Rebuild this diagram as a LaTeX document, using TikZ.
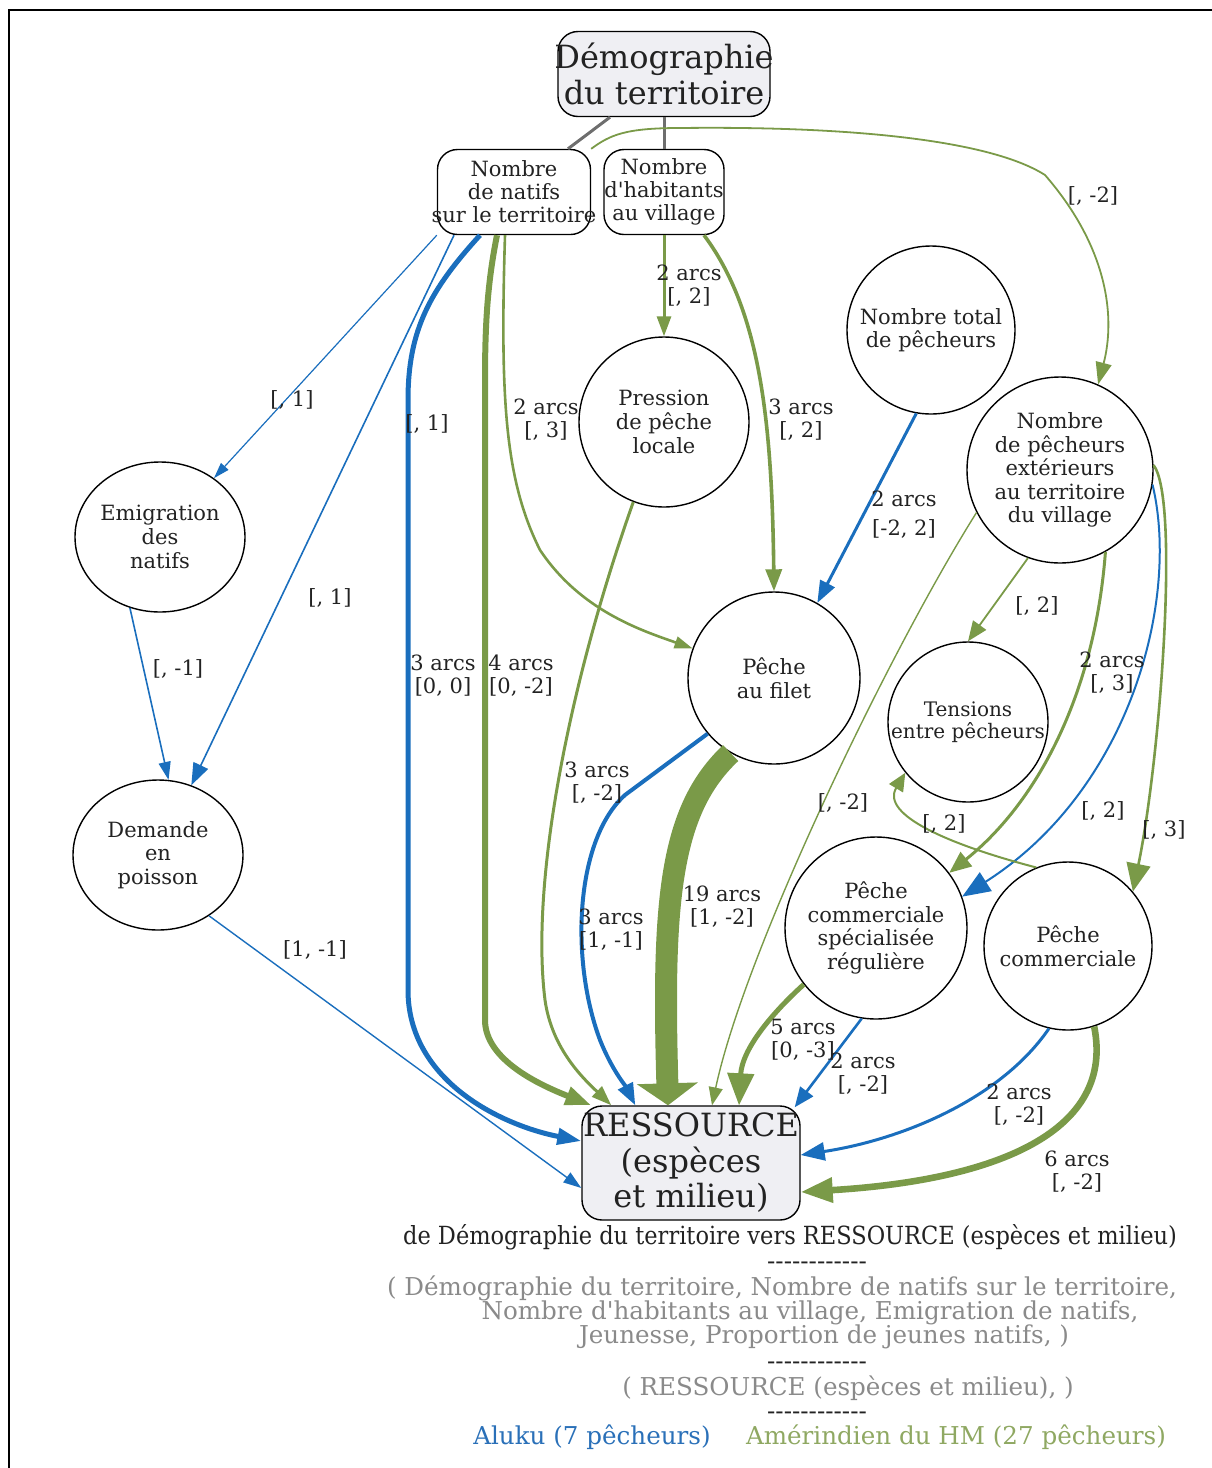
\documentclass[tikz,border=0pt]{standalone}
\usepackage{fontspec}
\newfontfamily\nf{DejaVu Serif}
\newfontfamily\capfont[FakeStretch=0.9]{DejaVu Serif}
\usetikzlibrary{arrows.meta,calc,shapes.geometric}
\definecolor{bluec}{HTML}{1A6EBD}
\definecolor{greenc}{HTML}{7A9A48}
\definecolor{txt}{HTML}{222222}
\definecolor{boxfill}{HTML}{EFEFF3}
\definecolor{capgray}{HTML}{8A8A8A}
\definecolor{legblue}{HTML}{2A70B8}
\definecolor{leggreen}{HTML}{8FA862}
\definecolor{linkgray}{HTML}{6E6E6E}
\newcommand\dashrow{-{}-{}-{}-{}-{}-{}-{}-{}-{}-{}-{}-}
\begin{document}
\nf
\begin{tikzpicture}[x=0.5pt,y=-0.5pt,
  every node/.style={text=txt},
  circ/.style={circle,draw=black,line width=0.7pt,inner sep=0pt,align=center,font=\nf\fontsize{10.5}{11.8}\selectfont},
  ell/.style={ellipse,draw=black,line width=0.7pt,inner sep=0pt,align=center,font=\nf\fontsize{10.5}{11.8}\selectfont},
  rbox/.style={rectangle,rounded corners=10pt,draw=black,line width=0.7pt,align=center,inner ysep=0pt},
  lab/.style={align=center,font=\nf\fontsize{10.5}{11.5}\selectfont,inner sep=0pt},
  bl/.style={draw=bluec},
  gr/.style={draw=greenc},
  glink/.style={draw=linkgray,line width=1.5pt},
  captxt/.style={font=\nf\fontsize{12.3}{14}\selectfont,inner sep=0pt},
  dashtxt/.style={font=\nf\fontsize{12.3}{14}\selectfont,inner sep=0pt,text height=5pt,text depth=0pt},
  captop/.style={font=\capfont\fontsize{12.5}{14}\selectfont,inner sep=0pt}
]
\useasboundingbox (0,0) rectangle (1211,1468);
\draw[line width=1.2pt] (9,10) rectangle (1240,1500);

% nodes
\node[rbox,fill=boxfill,minimum width=106pt,minimum height=42.5pt,inner xsep=-6pt,font=\nf\fontsize{16}{18}\selectfont] (demo) at (664,74) {Démographie\\du territoire};
\node[rbox,minimum width=76.5pt,minimum height=42.5pt,inner xsep=-8pt,font=\nf\fontsize{10.5}{11.5}\selectfont] (natifs) at (514,192) {Nombre\\de natifs\\sur le territoire};
\node[rbox,minimum width=60pt,minimum height=42.5pt,inner xsep=-4pt,font=\nf\fontsize{10.5}{11.5}\selectfont] (habitants) at (664,192) {Nombre\\d'habitants\\au village};
\node[circ,minimum size=85pt] (pression) at (664,422) {Pression\\de pêche\\locale};
\node[circ,minimum size=84pt] (total) at (931,330) {Nombre total\\de pêcheurs};
\node[circ,minimum size=93pt] (ext) at (1060,470) {Nombre\\de pêcheurs\\extérieurs\\au territoire\\du village};
\node[ell,minimum width=85pt,minimum height=75pt] (emig) at (160,537) {Emigration\\des\\natifs};
\node[ell,minimum width=85pt,minimum height=75pt] (dem) at (158,855) {Demande\\en\\poisson};
\node[circ,minimum size=86pt] (filet) at (774,678) {Pêche\\au filet};
\node[circ,minimum size=80pt,font=\nf\fontsize{10}{10.8}\selectfont] (tens) at (968,722) {Tensions\\entre pêcheurs};
\node[circ,minimum size=91pt] (spec) at (876,928) {Pêche\\commerciale\\spécialisée\\régulière};
\node[circ,minimum size=84pt] (comm) at (1068,946) {Pêche\\commerciale};
\node[rbox,fill=boxfill,minimum width=109pt,minimum height=57pt,inner xsep=-4pt,font=\nf\fontsize{16}{17.8}\selectfont] (res) at (691,1163) {RESSOURCE\\(espèces\\et milieu)};

% gray links
\draw[glink] ($(demo.south)+(-54,0)$) -- ($(natifs.north)+(54,0)$);
\draw[glink] (demo.south) -- (habitants.north);

% edges from natifs
\draw[bl,line width=0.6pt,-{Triangle[length=8pt,width=5pt]}] (natifs.south west) -- (emig);
\draw[bl,line width=0.8pt,-{Triangle[length=11pt,width=8pt]}] ($(natifs.south)+(-60,0)$) -- (dem);
\draw[bl,line width=2.5pt,-{Triangle[length=12pt,width=8pt]}] ($(natifs.south)+(-34,0)$) .. controls (430,290) and (408,330) .. (408,400) -- (408,990) .. controls (408,1080) and (500,1125) .. ($(res.west)+(0,-22)$);
\draw[gr,line width=3pt,-{Triangle[length=13pt,width=9pt]}] ($(natifs.south)+(-17,0)$) .. controls (488,280) and (485,320) .. (485,380) -- (485,1020) .. controls (485,1060) and (540,1085) .. ($(res.north west)+(10,0)$);
\draw[gr,line width=1.3pt,-{Triangle[length=9pt,width=6pt]}] ($(natifs.south)+(-9,0)$) .. controls (500,400) and (505,480) .. (540,550) .. controls (580,610) and (640,630) .. (filet.160);
\draw[gr,line width=0.9pt,-{Triangle[length=11pt,width=8pt]}] (natifs.north east) .. controls (610,135) and (625,128) .. (680,128) .. controls (850,126) and (990,140) .. (1045,175) .. controls (1110,250) and (1115,320) .. (ext.66);

% edge between emigration and demand
\draw[bl,line width=0.8pt,-{Triangle[length=9pt,width=6pt]}] (emig.247) -- (dem.82);

% edges from habitants
\draw[gr,line width=1.5pt,-{Triangle[length=10pt,width=7pt]}] (habitants.south) -- (pression.north);
\draw[gr,line width=1.8pt,-{Triangle[length=11pt,width=8pt]}] ($(habitants.south)+(40,0)$) .. controls (760,310) and (772,420) .. (filet.north);

% other edges
\draw[gr,line width=1.5pt,-{Triangle[length=10pt,width=7pt]}] (pression.249) .. controls (570,680) and (530,880) .. (545,1000) .. controls (552,1050) and (585,1080) .. ($(res.north west)+(30,0)$);
\draw[bl,line width=1.5pt,-{Triangle[length=11pt,width=8pt]}] (total.260) -- (filet.60);
\draw[bl,line width=2pt,-{Triangle[length=11pt,width=8pt]}] (filet.220) -- (625,795) .. controls (575,840) and (570,960) .. (600,1040) .. controls (612,1070) and (625,1085) .. ($(res.north west)+(54,0)$);
\draw[gr,line width=11pt,-{Triangle[length=11pt,width=30pt]}] (filet.240) .. controls (670,810) and (662,900) .. ($(res.north)+(-23,0)$);
\draw[gr,line width=0.7pt,-{Triangle[length=9pt,width=7pt]}] (ext.207) .. controls (890,650) and (745,950) .. ($(res.north)+(21,0)$);
\draw[gr,line width=0.9pt,-{Triangle[length=10pt,width=8pt]}] (ext.250) -- (tens.north);
\draw[gr,line width=1.5pt,-{Triangle[length=11pt,width=9pt]}] (ext.299) .. controls (1095,690) and (1040,800) .. (spec.37);
\draw[bl,line width=1pt,-{Triangle[length=14pt,width=11pt]}] (ext.351) .. controls (1180,600) and (1130,790) .. (spec.20);
\draw[gr,line width=1.3pt,-{Triangle[length=14pt,width=12pt]}] (ext.3) .. controls (1180,500) and (1160,760) .. (comm.40);
\draw[gr,line width=1pt,-{Triangle[length=9pt,width=8pt]}] (comm.112) .. controls (950,845) and (880,815) .. (tens.219);
\draw[gr,line width=2.5pt,-{Triangle[length=16pt,width=13pt]}] (spec.218) .. controls (770,1015) and (742,1050) .. ($(res.north)+(48,0)$);
\draw[bl,line width=1.3pt,-{Triangle[length=10pt,width=8pt]}] (spec.261) -- ($(res.north east)+(-6,2)$);
\draw[bl,line width=1.5pt,-{Triangle[length=12pt,width=9pt]}] (comm.257) .. controls (1000,1100) and (900,1140) .. ($(res.east)+(0,-8)$);
\draw[gr,line width=3.3pt,-{Triangle[length=16pt,width=12pt]}] (comm.288) .. controls (1115,1130) and (1000,1180) .. ($(res.east)+(0,29)$);
\draw[bl,line width=0.7pt,-{Triangle[length=9pt,width=6pt]}] (dem.-50) -- ($(res.west)+(0,25)$);

% edge labels
\node[lab] (l1) at (292,400) {[, 1]};
\node[lab] (l2) at (427,424) {[, 1]};
\node[lab] (l3) at (330,598) {[, 1]};
\node[lab] (l4) at (178,669) {[, -1]};
\node[lab] (l5) at (315,950) {[1, -1]};
\node[lab] (l6) at (443,676) {3 arcs\\{}[0, 0]};
\node[lab] (l7) at (521,676) {4 arcs\\{}[0, -2]};
\node[lab] (l8) at (546,420) {2 arcs\\{}[, 3]};
\node[lab] (l9) at (689,286) {2 arcs\\{}[, 2]};
\node[lab] (l10) at (801,420) {3 arcs\\{}[, 2]};
\node[lab] (l11) at (1093,196) {[, -2]};
\node[lab,font=\nf\fontsize{10.5}{14.5}\selectfont] (l12) at (904,515) {2 arcs\\{}[-2, 2]};
\node[lab] (l13) at (1037,606) {[, 2]};
\node[lab] (l14) at (1112,673) {2 arcs\\{}[, 3]};
\node[lab] (l15) at (597,783) {3 arcs\\{}[, -2]};
\node[lab] (l16) at (843,803) {[, -2]};
\node[lab] (l17) at (944,824) {[, 2]};
\node[lab] (l18) at (1103,811) {[, 2]};
\node[lab] (l19) at (1164,830) {[, 3]};
\node[lab] (l20) at (722,907) {19 arcs\\{}[1, -2]};
\node[lab] (l21) at (611,930) {3 arcs\\{}[1, -1]};
\node[lab] (l22) at (803,1040) {5 arcs\\{}[0, -3]};
\node[lab] (l23) at (863,1074) {2 arcs\\{}[, -2]};
\node[lab] (l24) at (1019,1105) {2 arcs\\{}[, -2]};
\node[lab] (l25) at (1077,1172) {6 arcs\\{}[, -2]};

% caption
\node[captop] (c1) at (790,1237) {de Démographie du territoire vers RESSOURCE (espèces et milieu)};
\node[dashtxt] (c2) at (817,1264) {\dashrow};
\node[captxt,text=capgray] (c3) at (782,1288) {( Démographie du territoire, Nombre de natifs sur le territoire,};
\node[captxt,text=capgray] (c4) at (810,1313) {Nombre d'habitants au village, Emigration de natifs,};
\node[captxt,text=capgray] (c5) at (824,1337) {Jeunesse, Proportion de jeunes natifs, )};
\node[dashtxt] (c6) at (817,1364) {\dashrow};
\node[captxt,text=capgray] (c7) at (848,1388) {( RESSOURCE (espèces et milieu), )};
\node[dashtxt] (c8) at (817,1414) {\dashrow};
\node[captxt,text=legblue] (c9) at (592,1437) {Aluku (7 pêcheurs)};
\node[captxt,text=leggreen] (c10) at (956,1437) {Amérindien du HM (27 pêcheurs)};
\end{tikzpicture}
\end{document}
